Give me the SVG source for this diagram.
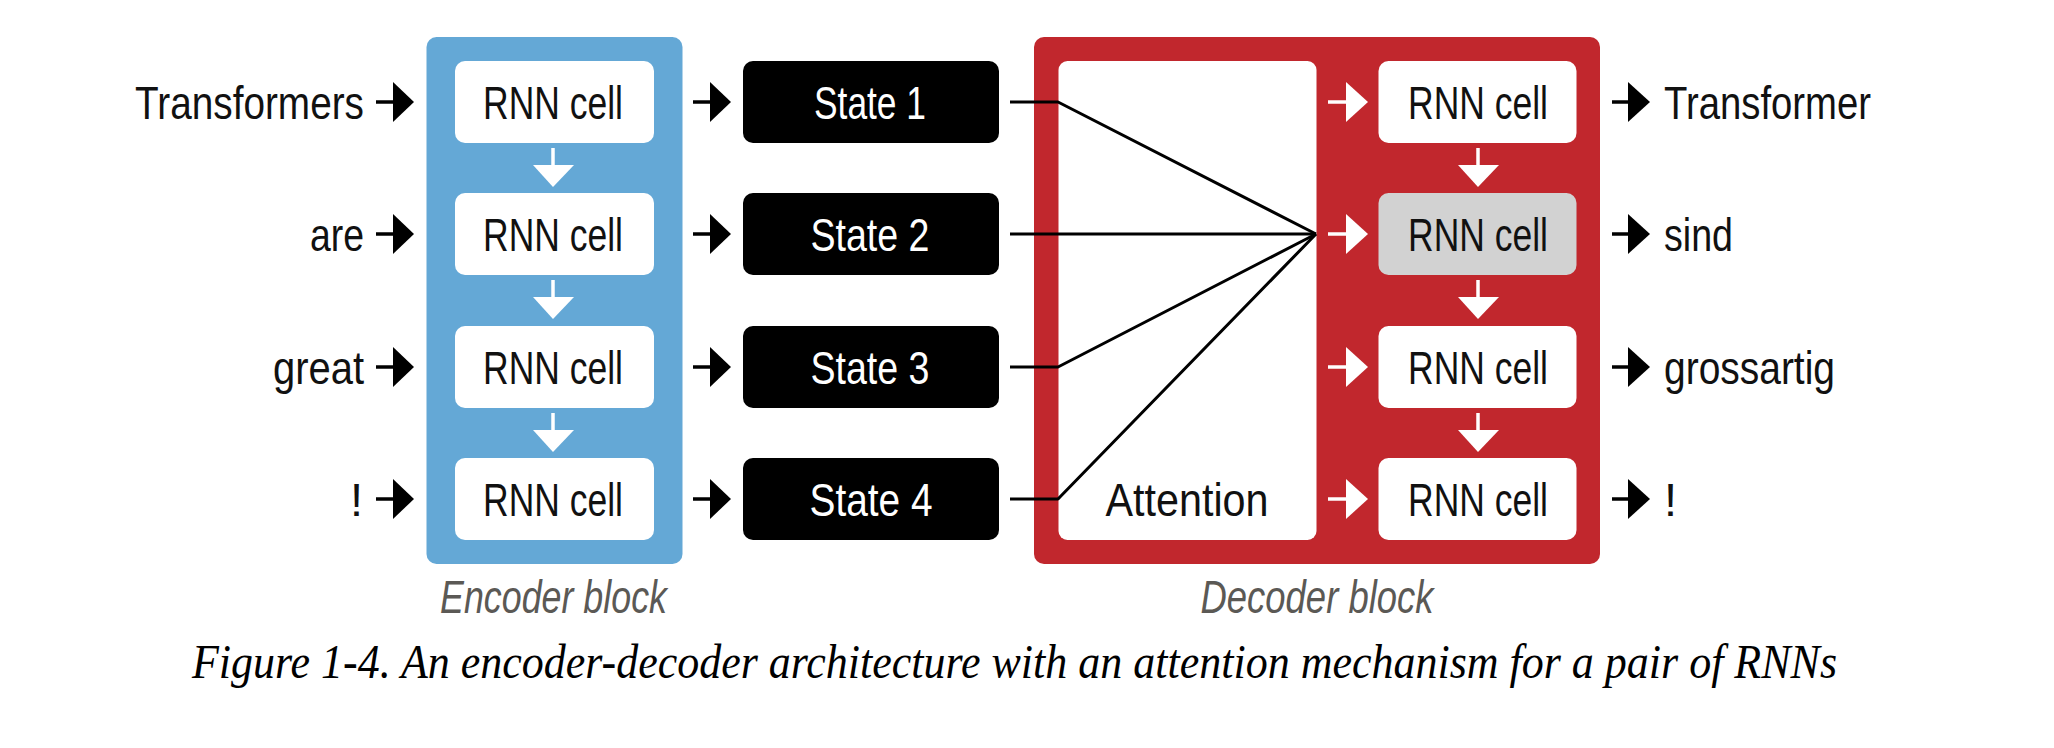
<svg xmlns="http://www.w3.org/2000/svg" width="2054" height="748" viewBox="0 0 2054 748">
  <defs>
    <style>
      .lbl { font-family: "Liberation Sans", Arial, sans-serif; font-size: 47px; fill: #111; }
      .cell-txt { font-family: "Liberation Sans", Arial, sans-serif; font-size: 47px; fill: #111; text-anchor: middle; }
      .state-txt { font-family: "Liberation Sans", Arial, sans-serif; font-size: 47px; fill: #fff; text-anchor: middle; }
      .blk { font-family: "Liberation Sans", Arial, sans-serif; font-style: italic; font-size: 47px; fill: #5b5955; text-anchor: middle; }
      .cap { font-family: "Liberation Serif", "Times New Roman", serif; font-style: italic; font-size: 48px; fill: #000; }
      .cell { fill: #fff; }
      .cell-gray { fill: #d2d2d2; }
      .state { fill: #000; }
      .fan { fill: none; stroke: #000; stroke-width: 3; stroke-linejoin: round; }
      .stem-b { stroke: #000; stroke-width: 3.5; }
      .stem-w { stroke: #fff; stroke-width: 3.5; }
      .head-b { fill: #000; }
      .head-w { fill: #fff; }
    </style>
  </defs>
  <rect width="2054" height="748" fill="#fff"/>

  <!-- Encoder block -->
  <g id="encoder-block">
    <rect x="426.5" y="37" width="256" height="527" rx="10" fill="#64a8d6"/>
    <text class="blk" x="553.5" y="612.5" textLength="227" lengthAdjust="spacingAndGlyphs">Encoder block</text>
  </g>
  <g id="enc-cell-1"><rect class="cell" x="455" y="61" width="199" height="82" rx="10"/><text class="cell-txt" x="553" y="118.5" textLength="140" lengthAdjust="spacingAndGlyphs">RNN cell</text></g>
  <g id="enc-cell-2"><rect class="cell" x="455" y="193" width="199" height="82" rx="10"/><text class="cell-txt" x="553" y="250.5" textLength="140" lengthAdjust="spacingAndGlyphs">RNN cell</text></g>
  <g id="enc-cell-3"><rect class="cell" x="455" y="326" width="199" height="82" rx="10"/><text class="cell-txt" x="553" y="383.5" textLength="140" lengthAdjust="spacingAndGlyphs">RNN cell</text></g>
  <g id="enc-cell-4"><rect class="cell" x="455" y="458" width="199" height="82" rx="10"/><text class="cell-txt" x="553" y="515.5" textLength="140" lengthAdjust="spacingAndGlyphs">RNN cell</text></g>

  <!-- Inputs -->
  <g id="in-1"><text class="lbl" x="364" y="118.5" text-anchor="end" textLength="229" lengthAdjust="spacingAndGlyphs">Transformers</text></g>
  <g id="in-2"><text class="lbl" x="364" y="250.5" text-anchor="end" textLength="54" lengthAdjust="spacingAndGlyphs">are</text></g>
  <g id="in-3"><text class="lbl" x="364" y="383.5" text-anchor="end" textLength="91" lengthAdjust="spacingAndGlyphs">great</text></g>
  <g id="in-4"><text class="lbl" x="363" y="515.5" text-anchor="end">!</text></g>

  <!-- States -->
  <g id="state-1"><rect class="state" x="743" y="61" width="256" height="82" rx="10"/><text class="state-txt" x="870" y="118.5" textLength="112" lengthAdjust="spacingAndGlyphs">State 1</text></g>
  <g id="state-2"><rect class="state" x="743" y="193" width="256" height="82" rx="10"/><text class="state-txt" x="870" y="250.5" textLength="119" lengthAdjust="spacingAndGlyphs">State 2</text></g>
  <g id="state-3"><rect class="state" x="743" y="326" width="256" height="82" rx="10"/><text class="state-txt" x="870" y="383.5" textLength="119" lengthAdjust="spacingAndGlyphs">State 3</text></g>
  <g id="state-4"><rect class="state" x="743" y="458" width="256" height="82" rx="10"/><text class="state-txt" x="871" y="515.5" textLength="123" lengthAdjust="spacingAndGlyphs">State 4</text></g>

  <!-- Decoder block -->
  <g id="decoder-block">
    <rect x="1034" y="37" width="566" height="527" rx="10" fill="#c1272d"/>
    <text class="blk" x="1317" y="612.5" textLength="233" lengthAdjust="spacingAndGlyphs">Decoder block</text>
  </g>
  <g id="attention">
    <rect x="1058.5" y="61" width="258" height="479" rx="9" fill="#fff"/>
    <text class="cell-txt" x="1187" y="515.5" textLength="163" lengthAdjust="spacingAndGlyphs">Attention</text>
  </g>
  <g id="dec-cell-1"><rect class="cell" x="1378.5" y="61" width="198" height="82" rx="10"/><text class="cell-txt" x="1478" y="118.5" textLength="140" lengthAdjust="spacingAndGlyphs">RNN cell</text></g>
  <g id="dec-cell-2"><rect class="cell-gray" x="1378.5" y="193" width="198" height="82" rx="10"/><text class="cell-txt" x="1478" y="250.5" textLength="140" lengthAdjust="spacingAndGlyphs">RNN cell</text></g>
  <g id="dec-cell-3"><rect class="cell" x="1378.5" y="326" width="198" height="82" rx="10"/><text class="cell-txt" x="1478" y="383.5" textLength="140" lengthAdjust="spacingAndGlyphs">RNN cell</text></g>
  <g id="dec-cell-4"><rect class="cell" x="1378.5" y="458" width="198" height="82" rx="10"/><text class="cell-txt" x="1478" y="515.5" textLength="140" lengthAdjust="spacingAndGlyphs">RNN cell</text></g>

  <!-- Outputs -->
  <g id="out-1"><text class="lbl" x="1664" y="118.5" textLength="207" lengthAdjust="spacingAndGlyphs">Transformer</text></g>
  <g id="out-2"><text class="lbl" x="1664" y="250.5" textLength="69" lengthAdjust="spacingAndGlyphs">sind</text></g>
  <g id="out-3"><text class="lbl" x="1664" y="383.5" textLength="171" lengthAdjust="spacingAndGlyphs">grossartig</text></g>
  <g id="out-4"><text class="lbl" x="1664" y="515.5">!</text></g>

  <!-- Connectors -->
  <g id="connectors">
    <!-- input arrows -->
    <g>
      <line class="stem-b" x1="376" y1="102" x2="395" y2="102"/><polygon class="head-b" points="393,82 414,102 393,122"/>
      <line class="stem-b" x1="376" y1="234" x2="395" y2="234"/><polygon class="head-b" points="393,214 414,234 393,254"/>
      <line class="stem-b" x1="376" y1="367" x2="395" y2="367"/><polygon class="head-b" points="393,347 414,367 393,387"/>
      <line class="stem-b" x1="376" y1="499" x2="395" y2="499"/><polygon class="head-b" points="393,479 414,499 393,519"/>
    </g>
    <!-- encoder down arrows -->
    <g>
      <line class="stem-w" x1="553" y1="148" x2="553" y2="167"/><polygon class="head-w" points="533,165 574,165 553,187"/>
      <line class="stem-w" x1="553" y1="280" x2="553" y2="299"/><polygon class="head-w" points="533,297 574,297 553,319"/>
      <line class="stem-w" x1="553" y1="413" x2="553" y2="432"/><polygon class="head-w" points="533,430 574,430 553,452"/>
    </g>
    <!-- encoder to state arrows -->
    <g>
      <line class="stem-b" x1="693" y1="102" x2="712" y2="102"/><polygon class="head-b" points="710,82 731,102 710,122"/>
      <line class="stem-b" x1="693" y1="234" x2="712" y2="234"/><polygon class="head-b" points="710,214 731,234 710,254"/>
      <line class="stem-b" x1="693" y1="367" x2="712" y2="367"/><polygon class="head-b" points="710,347 731,367 710,387"/>
      <line class="stem-b" x1="693" y1="499" x2="712" y2="499"/><polygon class="head-b" points="710,479 731,499 710,519"/>
    </g>
    <!-- states to attention -->
    <g>
      <polyline class="fan" points="1010,102 1058,102 1316,234"/>
      <polyline class="fan" points="1010,234 1316,234"/>
      <polyline class="fan" points="1010,367 1058,367 1316,234"/>
      <polyline class="fan" points="1010,499 1058,499 1316,234"/>
    </g>
    <!-- decoder input arrows -->
    <g>
      <line class="stem-w" x1="1328" y1="102" x2="1348" y2="102"/><polygon class="head-w" points="1346,82 1368,102 1346,122"/>
      <line class="stem-w" x1="1328" y1="234" x2="1348" y2="234"/><polygon class="head-w" points="1346,214 1368,234 1346,254"/>
      <line class="stem-w" x1="1328" y1="367" x2="1348" y2="367"/><polygon class="head-w" points="1346,347 1368,367 1346,387"/>
      <line class="stem-w" x1="1328" y1="499" x2="1348" y2="499"/><polygon class="head-w" points="1346,479 1368,499 1346,519"/>
    </g>
    <!-- decoder down arrows -->
    <g>
      <line class="stem-w" x1="1478" y1="148" x2="1478" y2="167"/><polygon class="head-w" points="1458,165 1499,165 1478,187"/>
      <line class="stem-w" x1="1478" y1="280" x2="1478" y2="299"/><polygon class="head-w" points="1458,297 1499,297 1478,319"/>
      <line class="stem-w" x1="1478" y1="413" x2="1478" y2="432"/><polygon class="head-w" points="1458,430 1499,430 1478,452"/>
    </g>
    <!-- output arrows -->
    <g>
      <line class="stem-b" x1="1612" y1="102" x2="1630" y2="102"/><polygon class="head-b" points="1628,82 1650,102 1628,122"/>
      <line class="stem-b" x1="1612" y1="234" x2="1630" y2="234"/><polygon class="head-b" points="1628,214 1650,234 1628,254"/>
      <line class="stem-b" x1="1612" y1="367" x2="1630" y2="367"/><polygon class="head-b" points="1628,347 1650,367 1628,387"/>
      <line class="stem-b" x1="1612" y1="499" x2="1630" y2="499"/><polygon class="head-b" points="1628,479 1650,499 1628,519"/>
    </g>
  </g>

  <!-- Caption -->
  <text class="cap" x="192" y="678" textLength="1645" lengthAdjust="spacingAndGlyphs">Figure 1-4. An encoder-decoder architecture with an attention mechanism for a pair of RNNs</text>
</svg>
